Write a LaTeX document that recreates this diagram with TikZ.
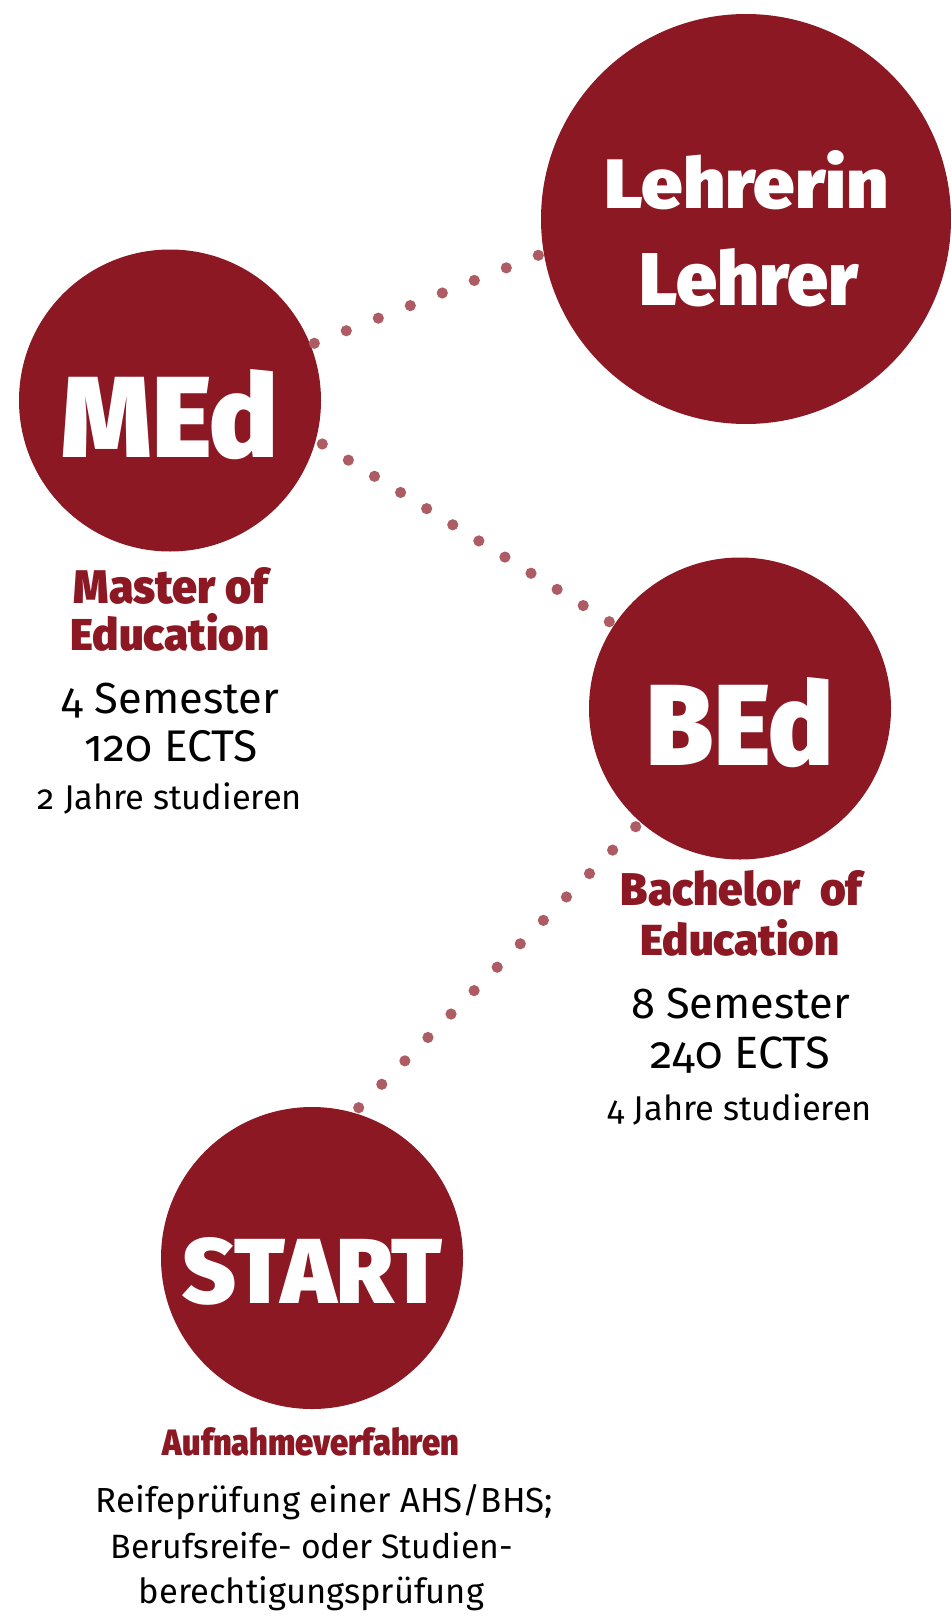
\documentclass[tikz,border=0pt]{standalone}
\usepackage{fontspec}
\usepackage{graphicx}
\usetikzlibrary{calc}
\setmainfont{Fira Sans}[Numbers=OldStyle]
\IfFontExistsTF{Fira Sans Book}{\newfontfamily\bodyfont{Fira Sans Book}[Numbers=OldStyle]}{\newfontfamily\bodyfont{Fira Sans}[Numbers=OldStyle]}
\IfFontExistsTF{Fira Sans Heavy}{\newfontfamily\heavyfont{Fira Sans Heavy}}{%
 \IfFontExistsTF{Fira Sans Black}{\newfontfamily\heavyfont{Fira Sans Black}}{%
  \IfFontExistsTF{Fira Sans ExtraBold}{\newfontfamily\heavyfont{Fira Sans ExtraBold}}{%
   \newfontfamily\heavyfont{Fira Sans}[UprightFont={* Bold}]}}}
\definecolor{edred}{RGB}{139,24,34}
\definecolor{dotred}{RGB}{173,92,99}
\newcommand{\fitw}[2]{\resizebox{#1pt}{!}{#2}}
\newcommand{\fitwh}[3]{\resizebox{#1pt}{#2pt}{#3}}
\tikzset{
  bigdisc/.style={circle, fill=edred, inner sep=0pt, minimum size=#1},
  disctext/.style={anchor=base, inner sep=0pt, text=white},
  headtext/.style={anchor=base, inner sep=0pt, text=edred},
  bodytext/.style={anchor=base, inner sep=0pt, text=black},
  dotmark/.style={fill=dotred}
}
\begin{document}
\begin{tikzpicture}[x=1pt,y=-1pt]
\useasboundingbox[fill=white] (0,0) rectangle (950,1616);
% discs
\node[bigdisc=410pt] (lehr) at (746,219) {};
\node[bigdisc=302pt] (med) at (170,400.5) {};
\node[bigdisc=302pt] (bed) at (740,708.5) {};
\node[bigdisc=302pt] (start) at (312,1258) {};
% dotted connectors
\coordinate (a1) at (314.3,343.3); \coordinate (a2) at (538.3,255.3);
\coordinate (b1) at (322.3,444);   \coordinate (b2) at (609.3,621.7);
\coordinate (c1) at (635.7,826.7); \coordinate (c2) at (358.7,1107.7);
\foreach \i in {0,...,7} \fill[dotmark] ($(a1)!\i/7!(a2)$) circle (5.6pt);
\foreach \i in {0,...,11} \fill[dotmark] ($(b1)!\i/11!(b2)$) circle (5.6pt);
\foreach \i in {0,...,12} \fill[dotmark] ($(c1)!\i/12!(c2)$) circle (5.6pt);
% disc texts
\node[disctext] (lehr-t1) at (747,208) {\fitwh{284}{58}{\heavyfont Lehrerin}};
\node[disctext] (lehr-t2) at (749,305) {\fitwh{218}{57}{\heavyfont Lehrer}};
\node[disctext] (med-t) at (170,457) {\fitwh{216}{88}{\heavyfont MEd}};
\node[disctext] (bed-t) at (740,765) {\fitwh{186}{88}{\heavyfont BEd}};
\node[disctext] (start-t) at (312.5,1303) {\fitwh{259}{66}{\heavyfont START}};
% MEd captions
\node[headtext] (med-h1) at (171,603) {\fitwh{194}{36}{\heavyfont Master of}};
\node[headtext] (med-h2) at (170,650) {\fitwh{198}{37}{\heavyfont Education}};
\node[bodytext] (med-b1) at (170.5,713) {\fitw{217}{\bodyfont 4 Semester}};
\node[bodytext] (med-b2) at (171.5,761) {\fitw{173}{\bodyfont 120 ECTS}};
\node[bodytext] (med-b3) at (170,809) {\fitw{264}{\bodyfont 2 Jahre studieren}};
% BEd captions
\node[headtext] (bed-h1) at (741.5,905) {\fitwh{241}{35}{\heavyfont Bachelor\hspace{0.45em}of}};
\node[headtext] (bed-h2) at (740,955) {\fitwh{198}{36}{\heavyfont Education}};
\node[bodytext] (bed-b1) at (740.5,1018) {\fitw{219}{\bodyfont 8 Semester}};
\node[bodytext] (bed-b2) at (740.5,1068) {\fitw{179}{\bodyfont 240 ECTS}};
\node[bodytext] (bed-b3) at (740,1120) {\fitw{264}{\bodyfont 4 Jahre studieren}};
% START captions
\node[headtext] (start-h) at (311,1455) {\fitwh{296}{28}{\heavyfont Aufnahmeverfahren}};
\node[bodytext] (start-b1) at (324.5,1512) {\fitw{457}{\bodyfont Reifeprüfung einer AHS/BHS;}};
\node[bodytext] (start-b2) at (312,1558) {\fitw{402}{\bodyfont Berufsreife- oder Studien-}};
\node[bodytext] (start-b3) at (311.5,1603) {\fitw{345}{\bodyfont berechtigungsprüfung}};
\end{tikzpicture}
\end{document}
